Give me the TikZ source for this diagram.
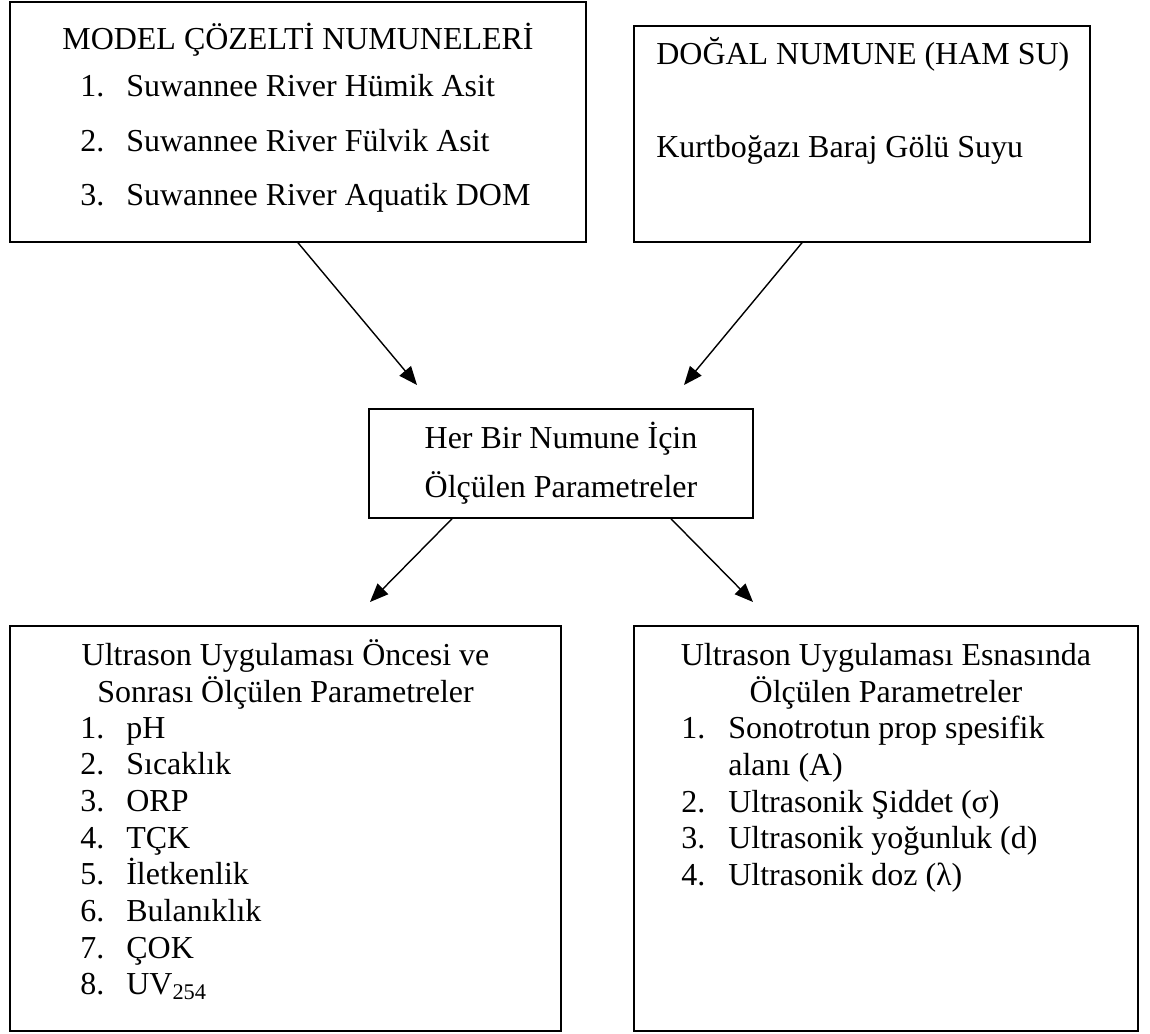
\documentclass[tikz,border=0pt]{standalone}
\usepackage{fontspec}
\setmainfont{Liberation Serif}
\usetikzlibrary{arrows.meta,calc}
\begin{document}
\begin{tikzpicture}[x=0.02cm, y=-0.02cm, inner sep=0pt,
    kutu/.style={draw, line width=0.9pt, rectangle},
    yazi/.style={anchor=base west, font=\fontsize{18.2}{20}\selectfont},
    orta/.style={anchor=base, font=\fontsize{18.2}{20}\selectfont},
    ok/.style={line width=0.8pt, -{Triangle[length=10.5pt,width=8.5pt]}}]
    \useasboundingbox (0,0) rectangle (1150,1034);
    % kutular
    \node[kutu, minimum width=11.52cm, minimum height=4.8cm] (model) at (298,122) {};
    \node[kutu, minimum width=9.12cm, minimum height=4.32cm] (dogal) at (862,134) {};
    \node[kutu, minimum width=7.68cm, minimum height=2.18cm] (olcum) at (561,463.5) {};
    \node[kutu, minimum width=11.02cm, minimum height=8.1cm] (once) at (285.5,828.5) {};
    \node[kutu, minimum width=10.08cm, minimum height=8.1cm] (esna) at (886,828.5) {};
    % model cozelti
    \node[orta] (mbas) at (298,50) {MODEL ÇÖZELTİ NUMUNELERİ};
    \foreach \i/\y/\t in {1/97/Hümik Asit, 2/152/Fülvik Asit, 3/205/Aquatik DOM} {
        \node[yazi] (mn\i) at (80,\y) {\i.};
        \node[yazi] (m\i) at (126,\y) {Suwannee River \t};
    }
    % dogal numune
    \node[yazi] (dbas) at (656,65) {DOĞAL NUMUNE (HAM SU)};
    \node[yazi] (d1) at (656,157) {Kurtboğazı Baraj Gölü Suyu};
    % her bir numune
    \node[orta] (ob1) at (561,448) {Her Bir Numune İçin};
    \node[orta] (ob2) at (561,497) {Ölçülen Parametreler};
    % oncesi ve sonrasi
    \node[orta] (pb1) at (285.5,665) {Ultrason Uygulaması Öncesi ve};
    \node[orta] (pb2) at (285.5,702) {Sonrası Ölçülen Parametreler};
    \foreach \i/\t in {1/pH, 2/Sıcaklık, 3/ORP, 4/TÇK, 5/İletkenlik, 6/Bulanıklık, 7/ÇOK, 8/UV\textsubscript{254}} {
        \node[yazi] (pn\i) at (80,{738+36.7*(\i-1)}) {\i.};
        \node[yazi] (p\i) at (126,{738+36.7*(\i-1)}) {\t};
    }
    % esnasinda
    \node[orta] (eb1) at (886,665) {Ultrason Uygulaması Esnasında};
    \node[orta] (eb2) at (886,702) {Ölçülen Parametreler};
    \node[yazi] (en1) at (681,738) {1.};
    \node[yazi] (e1) at (728,738) {Sonotrotun prop spesifik};
    \node[yazi] (e1b) at (728,775) {alanı (A)};
    \node[yazi] (en2) at (681,812) {2.};
    \node[yazi] (e2) at (728,812) {Ultrasonik Şiddet (σ)};
    \node[yazi] (en3) at (681,848) {3.};
    \node[yazi] (e3) at (728,848) {Ultrasonik yoğunluk (d)};
    \node[yazi] (en4) at (681,885) {4.};
    \node[yazi] (e4) at (728,885) {Ultrasonik doz (λ)};
    % oklar
    \coordinate (u1) at (417,385);
    \coordinate (u2) at (684,385);
    \coordinate (u3) at (370,602);
    \coordinate (u4) at (753,602);
    \draw[ok] (model.south) -- (u1);
    \draw[ok] ($(dogal.south)+(-60,0)$) -- (u2);
    \draw[ok] ($(olcum.south)+(-109,0)$) -- (u3);
    \draw[ok] ($(olcum.south)+(110,0)$) -- (u4);
\end{tikzpicture}
\end{document}
